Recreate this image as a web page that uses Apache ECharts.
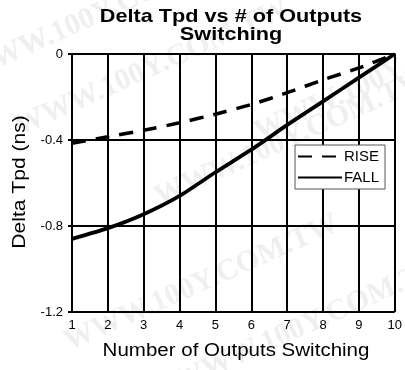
<!DOCTYPE html>
<html>
<head>
<meta charset="utf-8">
<script src="https://cdn.jsdelivr.net/npm/echarts@6/dist/echarts.min.js"></script>
<style>
  html, body { margin: 0; padding: 0; background: #fff; }
  #chart { width: 405px; height: 370px; }
</style>
</head>
<body>
<div id="chart"></div>
<script>
// Number of outputs switching (x axis)
const outputs = [1, 2, 3, 4, 5, 6, 7, 8, 9, 10];
// Delta propagation delay in ns
const riseDelta = [-0.415, -0.385, -0.355, -0.32, -0.28, -0.235, -0.18, -0.12, -0.065, 0];
const fallDelta = [-0.86, -0.81, -0.745, -0.66, -0.55, -0.445, -0.33, -0.22, -0.11, 0];
// Axis ranges and ticks
const xTicks = [1, 10, 1];          // min, max, interval
const yTicks = [-1.2, 0, 0.4];      // min, max, interval
// Text
const titleText = 'Delta Tpd vs # of Outputs\nSwitching';
const xName = 'Number of Outputs Switching';
const yName = 'Delta Tpd (ns)';
const watermark = 'WWW.100Y.COM.TW';

const font = '"Liberation Sans", Arial, sans-serif';
const pairs = (xs, ys) => xs.map((x, i) => [x, ys[i]]);
const stretch = 1.14;   // wide lettering of the headings

// faint diagonal watermark text
const markSpots = [[-40, 60], [10, 115], [150, 185], [60, 330], [170, 370], [250, 120]];
const marks = markSpots.map(([x, y]) => ({
  type: 'text', x, y, rotation: 0.42, silent: true, z: -10,
  style: { text: watermark, font: 'bold 30px "Liberation Serif", serif', fill: '#efefef' }
}));

const chart = echarts.init(document.getElementById('chart'), null, { renderer: 'canvas' });

chart.setOption({
  animation: false,
  backgroundColor: '#fff',
  graphic: marks.concat([
    {
      type: 'text', x: 231, y: 8, scaleX: stretch, z: 10,
      style: { text: titleText, align: 'center', verticalAlign: 'top', lineHeight: 18,
               font: 'bold 19px "Liberation Sans", Arial, sans-serif', fill: '#000' }
    },
    {
      type: 'text', x: 236, y: 351, scaleX: stretch, z: 10,
      style: { text: xName, align: 'center', verticalAlign: 'middle',
               font: '18px "Liberation Sans", Arial, sans-serif', fill: '#000' }
    },
    {
      type: 'text', x: 20, y: 182, rotation: Math.PI / 2, scaleX: 1.17, z: 10,
      style: { text: yName, align: 'center', verticalAlign: 'middle',
               font: '18px "Liberation Sans", Arial, sans-serif', fill: '#000' }
    }
  ]),
  grid: { left: 72, right: 5, top: 54, bottom: 58, containLabel: false },
  legend: {
    orient: 'vertical',
    left: 295,
    top: 145,
    width: 91,
    padding: [4, 6, 4, 2],
    itemGap: 6,
    itemWidth: 44,
    itemHeight: 16,
    backgroundColor: '#fff',
    borderColor: '#555',
    borderWidth: 1,
    borderRadius: 0,
    textStyle: { fontFamily: font, fontSize: 15, color: '#000', padding: [0, 0, 0, -3] },
    data: ['RISE', 'FALL']
  },
  xAxis: {
    type: 'value',
    min: xTicks[0], max: xTicks[1], interval: xTicks[2],
    axisLine: { show: true, lineStyle: { color: '#000', width: 2 } },
    axisTick: { show: true, length: 4, lineStyle: { color: '#000', width: 2 } },
    axisLabel: { fontFamily: font, fontSize: 13, color: '#000', margin: 7 },
    splitLine: { show: true, lineStyle: { color: '#000', width: 2 } }
  },
  yAxis: {
    type: 'value',
    min: yTicks[0], max: yTicks[1], interval: yTicks[2],
    axisLine: { show: true, lineStyle: { color: '#000', width: 2 } },
    axisTick: { show: true, length: 4, lineStyle: { color: '#000', width: 2 } },
    axisLabel: { fontFamily: font, fontSize: 13, color: '#000', margin: 9 },
    splitLine: { show: true, lineStyle: { color: '#000', width: 2 } }
  },
  series: [
    {
      name: 'RISE',
      type: 'line',
      data: pairs(outputs, riseDelta),
      symbol: 'none',
      smooth: 0.2,
      lineStyle: { color: '#000', width: 3.5, type: [14, 10] },
      itemStyle: { color: 'rgba(0,0,0,0)', borderWidth: 0 },
      z: 3
    },
    {
      name: 'FALL',
      type: 'line',
      data: pairs(outputs, fallDelta),
      symbol: 'none',
      smooth: 0.2,
      lineStyle: { color: '#000', width: 3.8 },
      itemStyle: { color: 'rgba(0,0,0,0)', borderWidth: 0 },
      z: 3
    }
  ]
});
</script>
</body>
</html>
